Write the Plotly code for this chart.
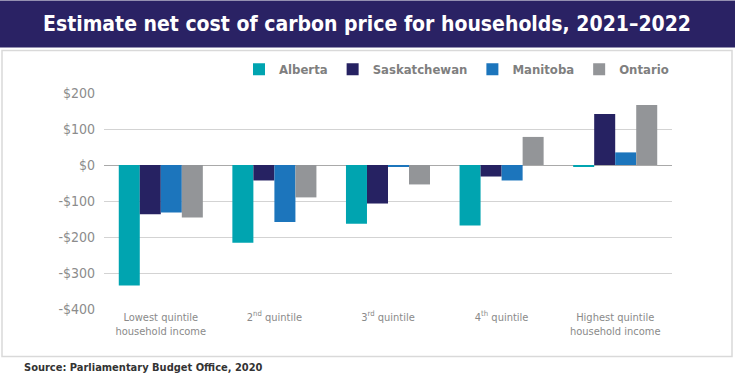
import plotly.graph_objects as go

categories = [
    "Lowest quintile<br>household income",
    "2<sup>nd</sup> quintile",
    "3<sup>rd</sup> quintile",
    "4<sup>th</sup> quintile",
    "Highest quintile<br>household income",
]
alberta = [-335, -216, -163, -168, -5]
saskatchewan = [-137, -43, -107, -32, 142]
manitoba = [-132, -158, -3, -43, 35]
ontario = [-146, -90, -54, 78, 167]

series_names = ["Alberta", "Saskatchewan", "Manitoba", "Ontario"]
series_values = [alberta, saskatchewan, manitoba, ontario]
series_colors = ["#00A4B0", "#262262", "#1C75BC", "#939598"]

y_tickvals = [200, 100, 0, -100, -200, -300, -400]
y_ticktext = ["$200", "$100", "$0", "-$100", "-$200", "-$300", "-$400"]

W, H = 735, 384
L, R, T, B = 104, 672, 92.7, 309.3
PW, PH = R - L, B - T


def px_x(x):
    return (x - L) / PW


def px_y(y):
    return (B - y) / PH


fig = go.Figure()
for name, vals, col in zip(series_names, series_values, series_colors):
    fig.add_trace(go.Bar(x=categories, y=vals, name=name, marker=dict(color=col, line=dict(width=0))))

COND = "DejaVu Sans Condensed, Liberation Sans Narrow, sans-serif"

fig.update_layout(
    width=W, height=H,
    margin=dict(l=L, r=W - R, t=T, b=H - B, autoexpand=False),
    paper_bgcolor="white", plot_bgcolor="white",
    barmode="group", bargap=0.26, bargroupgap=0,
    showlegend=True,
    legend=dict(orientation="h", x=px_x(674), xanchor="right", y=px_y(69), yanchor="middle",
                font=dict(family=COND, size=13, color="#7f7f7f", weight="bold"),
                bgcolor="rgba(0,0,0,0)", itemclick=False, tracegroupgap=0),
    xaxis=dict(showgrid=False, showline=False, ticks="", zeroline=False,
               tickfont=dict(family=COND, size=11, color="#8a8a8a")),
    yaxis=dict(range=[-400, 200], tickvals=y_tickvals, ticktext=y_ticktext,
               showgrid=True, gridcolor="#d3d3d3", gridwidth=1.3,
               zeroline=True, zerolinecolor="#a9a9a9", zerolinewidth=1.3,
               showline=False, ticks="", ticklabelstandoff=8,
               tickfont=dict(family=COND, size=14, color="#8c8c8c")),
    shapes=[
        dict(type="rect", xref="paper", yref="paper", x0=px_x(0), x1=px_x(W), y0=px_y(47), y1=px_y(0),
             fillcolor="#2A2264", line=dict(width=0), layer="below"),
        dict(type="rect", xref="paper", yref="paper", x0=px_x(2), x1=px_x(732), y0=px_y(357), y1=px_y(50),
             fillcolor="rgba(0,0,0,0)", line=dict(color="#d9d9d9", width=1.5), layer="below"),
    ],
    annotations=[
        dict(text="Estimate net cost of carbon price for households, 2021\u20132022",
             xref="paper", yref="paper", x=px_x(367), y=px_y(24), xanchor="center", yanchor="middle",
             showarrow=False, font=dict(family=COND, size=21, color="white", weight="bold")),
        dict(text="Source: Parliamentary Budget Office, 2020",
             xref="paper", yref="paper", x=px_x(22), y=px_y(368), xanchor="left", yanchor="middle",
             showarrow=False, font=dict(family=COND, size=11, color="#333333", weight="bold")),
    ],
)

fig.write_html("out.html", config={"displayModeBar": False},
               post_script="document.body.style.margin='0';document.body.style.overflow='hidden';")
